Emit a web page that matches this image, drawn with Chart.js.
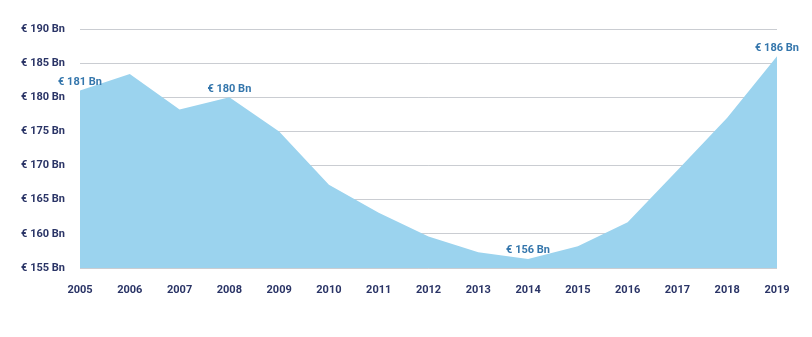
<!DOCTYPE html>
<html>
<head>
<meta charset="utf-8">
<script src="https://cdn.jsdelivr.net/npm/chart.js@4"></script>
<style>
  html, body { margin: 0; padding: 0; background: #fff; }
  #wrap { width: 812px; height: 337px; }
</style>
</head>
<body>
<div id="wrap"><canvas id="myChart"></canvas></div>
<script>
// Values (EUR billions)
const years = ['2005', '2006', '2007', '2008', '2009', '2010', '2011', '2012', '2013', '2014', '2015', '2016', '2017', '2018', '2019'];
const values = [181, 183.4, 178.2, 180, 175, 167.2, 163.1, 159.6, 157.3, 156.3, 158.2, 161.7, 169.3, 177, 186];
const labelledIdx = [0, 3, 9, 14];
const labelText = ['€ 181 Bn', '€ 180 Bn', '€ 156 Bn', '€ 186 Bn'];

const navy = 'rgb(42, 52, 102)';
const labelBlue = 'rgb(52, 118, 172)';

// draws the few value labels above their points
const valueLabels = {
    id: 'valueLabels',
    afterDatasetsDraw(chart) {
        const ctx = chart.ctx;
        const pts = chart.getDatasetMeta(0).data;
        ctx.save();
        ctx.font = 'bold 11px Roboto, sans-serif';
        ctx.fillStyle = labelBlue;
        ctx.textAlign = 'center';
        ctx.textBaseline = 'bottom';
        labelledIdx.forEach((i, k) => {
            const p = pts[i];
            ctx.fillText(labelText[k], p.x, p.y - 3);
        });
        ctx.restore();
    }
};

const ctx = document.getElementById('myChart').getContext('2d');
const myChart = new Chart(ctx, {
    type: 'line',
    data: {
        labels: years,
        datasets: [{
            data: values,
            fill: 'start',
            backgroundColor: 'rgb(155, 211, 238)',
            borderWidth: 0,
            borderColor: 'rgba(0,0,0,0)',
            pointRadius: 0,
            tension: 0,
        }],
    },
    options: {
        responsive: true,
        maintainAspectRatio: false,
        animation: false,
        layout: { padding: { top: 29, right: 35, left: 2, bottom: 0 } },
        plugins: {
            legend: { display: false },
            tooltip: { enabled: false },
        },
        scales: {
            x: {
                offset: false,
                grid: { display: false, drawTicks: false },
                border: { display: false },
                ticks: {
                    color: navy,
                    font: { family: 'Roboto', weight: 'bold', size: 11 },
                    padding: 16,
                    maxRotation: 0,
                    autoSkip: false,
                },
                afterFit(scale) { scale.height = 69; },
            },
            y: {
                min: 155,
                max: 190,
                z: 1,
                grid: { color: 'rgba(90, 100, 115, 0.32)', lineWidth: 1, drawTicks: false },
                border: { display: false },
                ticks: {
                    stepSize: 5,
                    color: navy,
                    padding: 15,
                    font: { family: 'Roboto', weight: 'bold', size: 11 },
                    callback: v => '€ ' + v + ' Bn',
                },
                afterFit(scale) { scale.width = 78; },
            },
        },
    },
    plugins: [valueLabels],
});
</script>
</body>
</html>
